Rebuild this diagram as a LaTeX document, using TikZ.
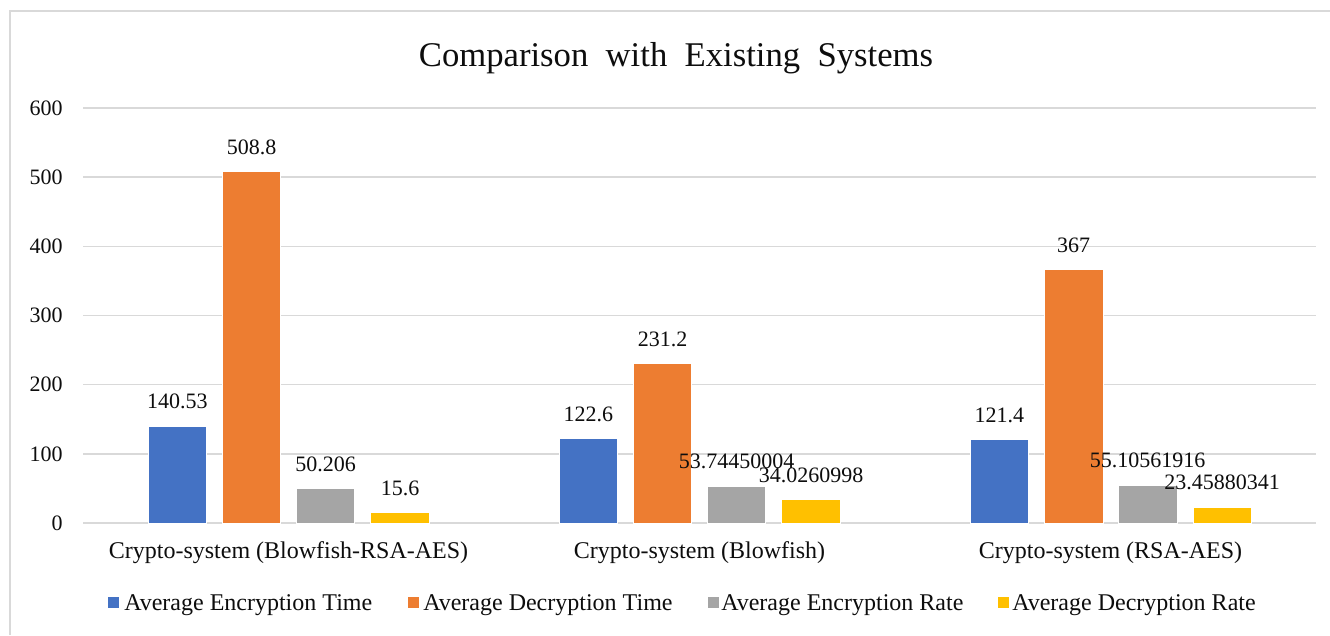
\documentclass[tikz,border=0pt]{standalone}
\usepackage{fontspec}
\setmainfont{Liberation Serif}
\definecolor{encT}{HTML}{4472C4}
\definecolor{decT}{HTML}{ED7D31}
\definecolor{encR}{HTML}{A5A5A5}
\definecolor{decR}{HTML}{FFC000}
\definecolor{gridgray}{HTML}{D9D9D9}
\definecolor{txt}{HTML}{0D0D0D}
\begin{document}
\begin{tikzpicture}[x=0.75pt,y=-0.75pt,
  bar/.style={fill=#1, draw=white, line width=0.4pt},
  val/.style={anchor=base, inner sep=0pt, text=txt, font=\fontsize{16.5}{18}\selectfont},
  ticklab/.style={anchor=east, inner sep=0pt, text=txt, font=\fontsize{16.5}{18}\selectfont},
  catlab/.style={anchor=base, inner sep=0pt, text=txt, font=\fontsize{18}{20}\selectfont},
  leglab/.style={anchor=base west, inner sep=0pt, text=txt, font=\fontsize{18}{20}\selectfont},
  legkey/.style={fill=#1, draw=none},
  gridline/.style={draw=gridgray, line width=1.2pt},
  frameline/.style={draw=gridgray, line width=1.8pt}]
\useasboundingbox (0,0) rectangle (1330,635);
\fill[white] (0,0) rectangle (1330,635);
% chart frame
\draw[frameline] (10,635) -- (10,11) -- (1330,11);
% title
\node[anchor=base, inner sep=0pt, text=txt, font=\fontsize{26}{30}\selectfont] (title) at (676,66)
  {Comparison\hspace{0.25em} with\hspace{0.25em} Existing\hspace{0.25em} Systems};
% value axis: gridlines and tick labels
\foreach \k/\lab in {0/0,1/100,2/200,3/300,4/400,5/500,6/600}{
  \pgfmathsetmacro\gy{523-69.167*\k}
  \draw[gridline] (83,\gy) -- (1316,\gy);
  \node[ticklab] (tick\k) at (63,\gy) {\lab};
}
% bars with data labels
\foreach \g/\cx/\a/\b/\c/\d in {
  1/288.5/140.53/508.8/50.206/15.6,
  2/699.5/122.6/231.2/53.74450004/34.0260998,
  3/1110.5/121.4/367/55.10561916/23.45880341}{
  \foreach \i/\off/\v/\col in {1/-111.25/\a/encT, 2/-37/\b/decT, 3/37/\c/encR, 4/111.5/\d/decR}{
    \pgfmathsetmacro\bx{\cx+\off}
    \pgfmathsetmacro\bl{\bx-29.25}
    \pgfmathsetmacro\br{\bx+29.25}
    \pgfmathsetmacro\bt{523-0.69167*\v}
    \pgfmathsetmacro\ly{\bt-17}
    \draw[bar=\col] (\bl,\bt) rectangle (\br,523);
    \node[val] (val\g\i) at (\bx,\ly) {\v};
  }
}
% category labels
\node[catlab] (cat1) at (288.5,558) {Crypto-system (Blowfish-RSA-AES)};
\node[catlab] (cat2) at (699.5,558) {Crypto-system (Blowfish)};
\node[catlab] (cat3) at (1110.5,558) {Crypto-system (RSA-AES)};
% legend
\fill[legkey=encT] (108,597) rectangle (119,608);
\node[leglab] (leg1) at (124,610) {Average Encryption Time};
\fill[legkey=decT] (408,597) rectangle (419,608);
\node[leglab] (leg2) at (423,610) {Average Decryption Time};
\fill[legkey=encR] (708,597) rectangle (719,608);
\node[leglab] (leg3) at (721,610) {Average Encryption Rate};
\fill[legkey=decR] (998,597) rectangle (1009,608);
\node[leglab] (leg4) at (1012,610) {Average Decryption Rate};
\end{tikzpicture}
\end{document}
